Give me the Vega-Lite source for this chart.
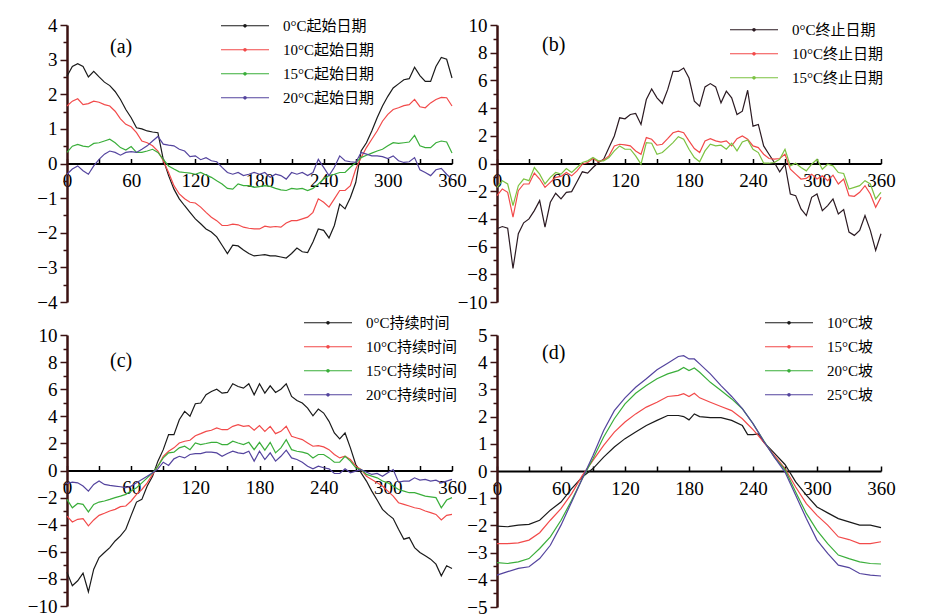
{
  "$schema": "https://vega.github.io/schema/vega-lite/v6.json",
  "background": "white",
  "padding": {"left": 27, "top": 14, "right": 5, "bottom": 5},
  "config": {
    "font": "Liberation Serif, Noto Sans CJK SC",
    "view": {"stroke": null},
    "axis": {"grid": false, "title": null, "labelFont": "Liberation Serif", "labelFontSize": 19, "labelColor": "black", "labelOverlap": false, "labelFlush": false, "format": "d"},
    "legend": {"orient": "none", "title": null, "padding": 0, "labelFont": "Liberation Serif, Noto Sans CJK SC", "labelFontSize": 15, "labelColor": "black", "symbolType": "M-1,0H1M0.05,0A0.05,0.05 0 1,1 -0.05,0A0.05,0.05 0 1,1 0.05,0", "symbolSize": 2304, "symbolStrokeWidth": 1.2, "labelOffset": 13, "clipHeight": 23.5, "rowPadding": 0},
    "title": {"font": "Liberation Serif", "fontSize": 20, "fontWeight": "normal", "color": "black", "anchor": "start", "frame": "group"}
  },
  "datasets": {
    "a": [
      {"x":0,"0°C起始日期":2.52,"10°C起始日期":1.66,"15°C起始日期":0.32,"20°C起始日期":-0.31},
      {"x":5,"0°C起始日期":2.8,"10°C起始日期":1.8,"15°C起始日期":0.5,"20°C起始日期":-0.16},
      {"x":10,"0°C起始日期":2.88,"10°C起始日期":1.87,"15°C起始日期":0.55,"20°C起始日期":-0.07},
      {"x":15,"0°C起始日期":2.8,"10°C起始日期":1.7,"15°C起始日期":0.5,"20°C起始日期":-0.21},
      {"x":20,"0°C起始日期":2.5,"10°C起始日期":1.73,"15°C起始日期":0.48,"20°C起始日期":-0.31},
      {"x":25,"0°C起始日期":2.66,"10°C起始日期":1.8,"15°C起始日期":0.58,"20°C起始日期":-0.07},
      {"x":30,"0°C起始日期":2.5,"10°C起始日期":1.77,"15°C起始日期":0.6,"20°C起始日期":0.12},
      {"x":35,"0°C起始日期":2.35,"10°C起始日期":1.7,"15°C起始日期":0.65,"20°C起始日期":0.27},
      {"x":40,"0°C起始日期":2.25,"10°C起始日期":1.66,"15°C起始日期":0.7,"20°C起始日期":0.36},
      {"x":45,"0°C起始日期":2.08,"10°C起始日期":1.51,"15°C起始日期":0.6,"20°C起始日期":0.32},
      {"x":50,"0°C起始日期":1.85,"10°C起始日期":1.29,"15°C起始日期":0.46,"20°C起始日期":0.24},
      {"x":55,"0°C起始日期":1.56,"10°C起始日期":1.13,"15°C起始日期":0.39,"20°C起始日期":0.32},
      {"x":60,"0°C起始日期":1.32,"10°C起始日期":1.06,"15°C起始日期":0.49,"20°C起始日期":0.34},
      {"x":65,"0°C起始日期":1.03,"10°C起始日期":0.89,"15°C起始日期":0.32,"20°C起始日期":0.32},
      {"x":70,"0°C起始日期":1.0,"10°C起始日期":0.65,"15°C起始日期":0.32,"20°C起始日期":0.41},
      {"x":75,"0°C起始日期":0.94,"10°C起始日期":0.6,"15°C起始日期":0.36,"20°C起始日期":0.51},
      {"x":80,"0°C起始日期":0.91,"10°C起始日期":0.51,"15°C起始日期":0.41,"20°C起始日期":0.65},
      {"x":85,"0°C起始日期":0.89,"10°C起始日期":0.36,"15°C起始日期":0.32,"20°C起始日期":0.78},
      {"x":90,"0°C起始日期":0.12,"10°C起始日期":0.08,"15°C起始日期":0.12,"20°C起始日期":0.56},
      {"x":95,"0°C起始日期":-0.35,"10°C起始日期":-0.26,"15°C起始日期":-0.07,"20°C起始日期":0.53},
      {"x":100,"0°C起始日期":-0.74,"10°C起始日期":-0.64,"15°C起始日期":-0.16,"20°C起始日期":0.51},
      {"x":105,"0°C起始日期":-1.02,"10°C起始日期":-0.88,"15°C起始日期":-0.24,"20°C起始日期":0.41},
      {"x":110,"0°C起始日期":-1.22,"10°C起始日期":-1.02,"15°C起始日期":-0.26,"20°C起始日期":0.36},
      {"x":115,"0°C起始日期":-1.41,"10°C起始日期":-1.12,"15°C起始日期":-0.28,"20°C起始日期":0.2},
      {"x":120,"0°C起始日期":-1.6,"10°C起始日期":-1.14,"15°C起始日期":-0.31,"20°C起始日期":0.22},
      {"x":125,"0°C起始日期":-1.74,"10°C起始日期":-1.26,"15°C起始日期":-0.26,"20°C起始日期":0.11},
      {"x":130,"0°C起始日期":-1.89,"10°C起始日期":-1.41,"15°C起始日期":-0.33,"20°C起始日期":0.17},
      {"x":135,"0°C起始日期":-1.98,"10°C起始日期":-1.55,"15°C起始日期":-0.4,"20°C起始日期":0.08},
      {"x":140,"0°C起始日期":-2.12,"10°C起始日期":-1.65,"15°C起始日期":-0.5,"20°C起始日期":0.05},
      {"x":145,"0°C起始日期":-2.36,"10°C起始日期":-1.79,"15°C起始日期":-0.59,"20°C起始日期":-0.11},
      {"x":150,"0°C起始日期":-2.6,"10°C起始日期":-1.79,"15°C起始日期":-0.72,"20°C起始日期":-0.26},
      {"x":155,"0°C起始日期":-2.36,"10°C起始日期":-1.75,"15°C起始日期":-0.74,"20°C起始日期":-0.31},
      {"x":160,"0°C起始日期":-2.38,"10°C起始日期":-1.77,"15°C起始日期":-0.59,"20°C起始日期":-0.26},
      {"x":165,"0°C起始日期":-2.5,"10°C起始日期":-1.84,"15°C起始日期":-0.64,"20°C起始日期":-0.35},
      {"x":170,"0°C起始日期":-2.6,"10°C起始日期":-1.87,"15°C起始日期":-0.64,"20°C起始日期":-0.31},
      {"x":175,"0°C起始日期":-2.67,"10°C起始日期":-1.89,"15°C起始日期":-0.69,"20°C起始日期":-0.26},
      {"x":180,"0°C起始日期":-2.65,"10°C起始日期":-1.89,"15°C起始日期":-0.67,"20°C起始日期":-0.31},
      {"x":185,"0°C起始日期":-2.63,"10°C起始日期":-1.81,"15°C起始日期":-0.64,"20°C起始日期":-0.26},
      {"x":190,"0°C起始日期":-2.67,"10°C起始日期":-1.84,"15°C起始日期":-0.66,"20°C起始日期":-0.4},
      {"x":195,"0°C起始日期":-2.67,"10°C起始日期":-1.82,"15°C起始日期":-0.72,"20°C起始日期":-0.31},
      {"x":200,"0°C起始日期":-2.7,"10°C起始日期":-1.84,"15°C起始日期":-0.76,"20°C起始日期":-0.35},
      {"x":205,"0°C起始日期":-2.73,"10°C起始日期":-1.72,"15°C起始日期":-0.78,"20°C起始日期":-0.45},
      {"x":210,"0°C起始日期":-2.6,"10°C起始日期":-1.65,"15°C起始日期":-0.72,"20°C起始日期":-0.26},
      {"x":215,"0°C起始日期":-2.44,"10°C起始日期":-1.65,"15°C起始日期":-0.74,"20°C起始日期":-0.31},
      {"x":220,"0°C起始日期":-2.55,"10°C起始日期":-1.6,"15°C起始日期":-0.72,"20°C起始日期":-0.26},
      {"x":225,"0°C起始日期":-2.57,"10°C起始日期":-1.55,"15°C起始日期":-0.78,"20°C起始日期":-0.35},
      {"x":230,"0°C起始日期":-2.27,"10°C起始日期":-1.41,"15°C起始日期":-0.72,"20°C起始日期":-0.26},
      {"x":235,"0°C起始日期":-1.89,"10°C起始日期":-1.02,"15°C起始日期":-0.59,"20°C起始日期":0.12},
      {"x":240,"0°C起始日期":-1.93,"10°C起始日期":-1.12,"15°C起始日期":-0.45,"20°C起始日期":-0.11},
      {"x":245,"0°C起始日期":-2.15,"10°C起始日期":-1.26,"15°C起始日期":-0.35,"20°C起始日期":-0.35},
      {"x":250,"0°C起始日期":-1.79,"10°C起始日期":-1.02,"15°C起始日期":-0.31,"20°C起始日期":-0.11},
      {"x":255,"0°C起始日期":-1.17,"10°C起始日期":-0.78,"15°C起始日期":-0.26,"20°C起始日期":0.22},
      {"x":260,"0°C起始日期":-1.31,"10°C起始日期":-0.78,"15°C起始日期":-0.26,"20°C起始日期":0.08},
      {"x":265,"0°C起始日期":-0.98,"10°C起始日期":-0.64,"15°C起始日期":-0.11,"20°C起始日期":0.05},
      {"x":270,"0°C起始日期":-0.55,"10°C起始日期":-0.16,"15°C起始日期":0.03,"20°C起始日期":0.03},
      {"x":275,"0°C起始日期":0.36,"10°C起始日期":0.17,"15°C起始日期":0.17,"20°C起始日期":0.32},
      {"x":280,"0°C起始日期":0.6,"10°C起始日期":0.46,"15°C起始日期":0.24,"20°C起始日期":0.27},
      {"x":285,"0°C起始日期":0.94,"10°C起始日期":0.7,"15°C起始日期":0.3,"20°C起始日期":0.22},
      {"x":290,"0°C起始日期":1.32,"10°C起始日期":0.94,"15°C起始日期":0.36,"20°C起始日期":0.22},
      {"x":295,"0°C起始日期":1.66,"10°C起始日期":1.22,"15°C起始日期":0.41,"20°C起始日期":0.2},
      {"x":300,"0°C起始日期":1.94,"10°C起始日期":1.42,"15°C起始日期":0.51,"20°C起始日期":0.14},
      {"x":305,"0°C起始日期":2.18,"10°C起始日期":1.56,"15°C起始日期":0.6,"20°C起始日期":0.22},
      {"x":310,"0°C起始日期":2.3,"10°C起始日期":1.61,"15°C起始日期":0.58,"20°C起始日期":0.08},
      {"x":315,"0°C起始日期":2.42,"10°C起始日期":1.67,"15°C起始日期":0.6,"20°C起始日期":0.03},
      {"x":320,"0°C起始日期":2.45,"10°C起始日期":1.7,"15°C起始日期":0.62,"20°C起始日期":0.05},
      {"x":325,"0°C起始日期":2.78,"10°C起始日期":1.85,"15°C起始日期":0.81,"20°C起始日期":0.17},
      {"x":330,"0°C起始日期":2.54,"10°C起始日期":1.64,"15°C起始日期":0.51,"20°C起始日期":-0.18},
      {"x":335,"0°C起始日期":2.37,"10°C起始日期":1.61,"15°C起始日期":0.46,"20°C起始日期":-0.26},
      {"x":340,"0°C起始日期":2.37,"10°C起始日期":1.75,"15°C起始日期":0.46,"20°C起始日期":-0.35},
      {"x":345,"0°C起始日期":2.8,"10°C起始日期":1.85,"15°C起始日期":0.6,"20°C起始日期":-0.18},
      {"x":350,"0°C起始日期":3.06,"10°C起始日期":1.91,"15°C起始日期":0.65,"20°C起始日期":-0.14},
      {"x":355,"0°C起始日期":3.01,"10°C起始日期":1.9,"15°C起始日期":0.62,"20°C起始日期":-0.31},
      {"x":360,"0°C起始日期":2.47,"10°C起始日期":1.66,"15°C起始日期":0.3,"20°C起始日期":-0.45}
    ],
    "b": [
      {"x":0,"0°C终止日期":-4.71,"10°C终止日期":-2.32,"15°C终止日期":-1.72},
      {"x":5,"0°C终止日期":-4.55,"10°C终止日期":-1.84,"15°C终止日期":-1.24},
      {"x":10,"0°C终止日期":-4.67,"10°C终止日期":-2.08,"15°C终止日期":-1.48},
      {"x":15,"0°C终止日期":-7.58,"10°C终止日期":-3.88,"15°C终止日期":-3.04},
      {"x":20,"0°C终止日期":-5.07,"10°C终止日期":-1.96,"15°C终止日期":-1.6},
      {"x":25,"0°C终止日期":-4.28,"10°C终止日期":-1.48,"15°C终止日期":-1.12},
      {"x":30,"0°C终止日期":-4.0,"10°C终止日期":-1.48,"15°C终止日期":-1.24},
      {"x":35,"0°C终止日期":-3.4,"10°C终止日期":-0.69,"15°C终止日期":-0.29},
      {"x":40,"0°C终止日期":-2.68,"10°C终止日期":-1.12,"15°C终止日期":-0.77},
      {"x":45,"0°C终止日期":-4.6,"10°C终止日期":-1.72,"15°C终止日期":-1.48},
      {"x":50,"0°C终止日期":-2.8,"10°C终止日期":-1.36,"15°C终止日期":-1.0},
      {"x":55,"0°C终止日期":-2.15,"10°C终止日期":-1.0,"15°C终止日期":-0.65},
      {"x":60,"0°C终止日期":-2.56,"10°C终止日期":-0.93,"15°C终止日期":-0.77},
      {"x":65,"0°C终止日期":-2.08,"10°C终止日期":-0.65,"15°C终止日期":-0.36},
      {"x":70,"0°C终止日期":-2.03,"10°C终止日期":-0.89,"15°C终止日期":-0.65},
      {"x":75,"0°C终止日期":-1.32,"10°C终止日期":-0.53,"15°C终止日期":-0.29},
      {"x":80,"0°C终止日期":-0.6,"10°C终止日期":-0.05,"15°C终止日期":0.07},
      {"x":85,"0°C终止日期":-0.69,"10°C终止日期":0.07,"15°C终止日期":0.19},
      {"x":90,"0°C终止日期":-0.29,"10°C终止日期":0.36,"15°C终止日期":0.43},
      {"x":95,"0°C终止日期":0.07,"10°C终止日期":0.12,"15°C终止日期":0.19},
      {"x":100,"0°C终止日期":0.31,"10°C终止日期":0.26,"15°C终止日期":0.19},
      {"x":105,"0°C终止日期":1.15,"10°C终止日期":0.55,"15°C终止日期":0.43},
      {"x":110,"0°C终止日期":1.99,"10°C终止日期":1.27,"15°C终止日期":0.91},
      {"x":115,"0°C终止日期":3.3,"10°C终止日期":1.39,"15°C终止日期":1.27},
      {"x":120,"0°C终止日期":3.23,"10°C终止日期":1.34,"15°C终止日期":1.03},
      {"x":125,"0°C终止日期":3.54,"10°C终止日期":1.27,"15°C终止日期":1.03},
      {"x":130,"0°C终止日期":3.61,"10°C终止日期":0.91,"15°C终止日期":0.55},
      {"x":135,"0°C终止日期":2.82,"10°C终止日期":0.67,"15°C终止日期":-0.05},
      {"x":140,"0°C终止日期":4.62,"10°C终止日期":1.87,"15°C终止日期":1.51},
      {"x":145,"0°C终止日期":5.38,"10°C终止日期":1.75,"15°C终止日期":1.46},
      {"x":150,"0°C终止日期":4.74,"10°C终止日期":1.32,"15°C终止日期":0.67},
      {"x":155,"0°C终止日期":4.33,"10°C终止日期":1.39,"15°C终止日期":0.79},
      {"x":160,"0°C终止日期":5.33,"10°C终止日期":1.79,"15°C终止日期":1.15},
      {"x":165,"0°C终止日期":6.65,"10°C终止日期":2.22,"15°C终止日期":1.51},
      {"x":170,"0°C终止日期":6.65,"10°C终止日期":2.34,"15°C终止日期":1.94},
      {"x":175,"0°C终止日期":6.89,"10°C终止日期":2.22,"15°C终止日期":1.75},
      {"x":180,"0°C终止日期":6.17,"10°C终止日期":1.63,"15°C终止日期":1.03},
      {"x":185,"0°C终止日期":4.5,"10°C终止日期":1.08,"15°C终止日期":0.43},
      {"x":190,"0°C终止日期":4.14,"10°C终止日期":0.79,"15°C终止日期":0.12},
      {"x":195,"0°C终止日期":5.53,"10°C终止日期":1.63,"15°C终止日期":0.91},
      {"x":200,"0°C终止日期":5.77,"10°C终止日期":1.79,"15°C终止日期":1.39},
      {"x":205,"0°C终止日期":5.53,"10°C终止日期":1.63,"15°C终止日期":1.27},
      {"x":210,"0°C终止日期":4.38,"10°C终止日期":1.55,"15°C终止日期":1.32},
      {"x":215,"0°C终止日期":5.22,"10°C终止日期":1.63,"15°C终止日期":1.03},
      {"x":220,"0°C终止日期":4.74,"10°C终止日期":1.27,"15°C终止日期":1.46},
      {"x":225,"0°C终止日期":3.54,"10°C终止日期":1.79,"15°C终止日期":0.91},
      {"x":230,"0°C终止日期":3.78,"10°C终止日期":1.99,"15°C终止日期":1.55},
      {"x":235,"0°C终止日期":5.29,"10°C终止日期":1.75,"15°C终止日期":1.7},
      {"x":240,"0°C终止日期":2.7,"10°C终止日期":1.27,"15°C终止日期":1.03},
      {"x":245,"0°C终止日期":2.82,"10°C终止日期":1.15,"15°C终止日期":0.79},
      {"x":250,"0°C终止日期":1.27,"10°C终止日期":0.67,"15°C终止日期":0.02},
      {"x":255,"0°C终止日期":0.67,"10°C终止日期":0.36,"15°C终止日期":0.02},
      {"x":260,"0°C终止日期":0.07,"10°C终止日期":0.31,"15°C终止日期":0.07},
      {"x":265,"0°C终止日期":-0.6,"10°C终止日期":0.36,"15°C终止日期":0.31},
      {"x":270,"0°C终止日期":-0.05,"10°C终止日期":0.67,"15°C终止日期":1.03},
      {"x":275,"0°C终止日期":-2.2,"10°C终止日期":-0.41,"15°C终止日期":-0.17},
      {"x":280,"0°C终止日期":-2.32,"10°C终止日期":-0.77,"15°C终止日期":0.02},
      {"x":285,"0°C终止日期":-3.28,"10°C终止日期":-1.12,"15°C终止日期":-0.29},
      {"x":290,"0°C终止日期":-3.76,"10°C终止日期":-1.08,"15°C终止日期":-0.53},
      {"x":295,"0°C终止日期":-2.44,"10°C终止日期":-0.77,"15°C终止日期":-0.05},
      {"x":300,"0°C终止日期":-2.2,"10°C终止日期":-1.12,"15°C终止日期":0.31},
      {"x":305,"0°C终止日期":-3.4,"10°C终止日期":-0.89,"15°C终止日期":-0.41},
      {"x":310,"0°C终止日期":-3.04,"10°C终止日期":-1.24,"15°C终止日期":-0.05},
      {"x":315,"0°C终止日期":-2.56,"10°C终止日期":-0.84,"15°C终止日期":-0.17},
      {"x":320,"0°C终止日期":-3.64,"10°C终止日期":-1.48,"15°C终止日期":-0.65},
      {"x":325,"0°C终止日期":-3.33,"10°C终止日期":-1.12,"15°C终止日期":-0.72},
      {"x":330,"0°C终止日期":-4.95,"10°C终止日期":-2.32,"15°C终止日期":-1.84},
      {"x":335,"0°C终止日期":-5.19,"10°C终止日期":-2.37,"15°C终止日期":-1.72},
      {"x":340,"0°C终止日期":-4.83,"10°C终止日期":-2.08,"15°C终止日期":-1.6},
      {"x":345,"0°C终止日期":-3.76,"10°C终止日期":-1.6,"15°C终止日期":-1.24},
      {"x":350,"0°C终止日期":-4.83,"10°C终止日期":-2.2,"15°C终止日期":-1.48},
      {"x":355,"0°C终止日期":-6.27,"10°C终止日期":-3.16,"15°C终止日期":-2.56},
      {"x":360,"0°C终止日期":-5.07,"10°C终止日期":-2.44,"15°C终止日期":-2.08}
    ],
    "c": [
      {"x":0,"0°C持续时间":-7.52,"10°C持续时间":-3.36,"15°C持续时间":-2.13,"20°C持续时间":-0.96},
      {"x":5,"0°C持续时间":-8.5,"10°C持续时间":-3.8,"15°C持续时间":-2.75,"20°C持续时间":-0.86},
      {"x":10,"0°C持续时间":-8.14,"10°C持续时间":-3.6,"15°C持续时间":-2.43,"20°C持续时间":-0.91},
      {"x":15,"0°C持续时间":-7.57,"10°C持续时间":-3.55,"15°C持续时间":-2.5,"20°C持续时间":-1.15},
      {"x":20,"0°C持续时间":-8.95,"10°C持续时间":-4.09,"15°C持续时间":-3.06,"20°C持续时间":-1.52},
      {"x":25,"0°C持续时间":-7.28,"10°C持续时间":-3.65,"15°C持续时间":-2.5,"20°C持续时间":-1.03},
      {"x":30,"0°C持续时间":-6.42,"10°C持续时间":-3.31,"15°C持续时间":-2.33,"20°C持续时间":-0.78},
      {"x":35,"0°C持续时间":-6.05,"10°C持续时间":-3.16,"15°C持续时间":-2.25,"20°C持续时间":-1.03},
      {"x":40,"0°C持续时间":-5.69,"10°C持续时间":-2.99,"15°C持续时间":-2.13,"20°C持续时间":-1.1},
      {"x":45,"0°C持续时间":-5.2,"10°C持续时间":-2.87,"15°C持续时间":-2.0,"20°C持续时间":-1.15},
      {"x":50,"0°C持续时间":-4.83,"10°C持续时间":-2.67,"15°C持续时间":-1.89,"20°C持续时间":-1.2},
      {"x":55,"0°C持续时间":-4.34,"10°C持续时间":-2.62,"15°C持续时间":-1.76,"20°C持续时间":-1.27},
      {"x":60,"0°C持续时间":-3.31,"10°C持续时间":-2.25,"15°C持续时间":-1.52,"20°C持续时间":-1.15},
      {"x":65,"0°C持续时间":-2.33,"10°C持续时间":-1.76,"15°C持续时间":-1.27,"20°C持续时间":-0.91},
      {"x":70,"0°C持续时间":-2.13,"10°C持续时间":-1.4,"15°C持续时间":-0.91,"20°C持续时间":-0.66},
      {"x":75,"0°C持续时间":-1.15,"10°C持续时间":-0.91,"15°C持续时间":-0.54,"20°C持续时间":-0.42},
      {"x":80,"0°C持续时间":-0.42,"10°C持续时间":-0.29,"15°C持续时间":-0.17,"20°C持续时间":-0.17},
      {"x":85,"0°C持续时间":0.69,"10°C持续时间":0.32,"15°C持续时间":0.32,"20°C持续时间":0.12},
      {"x":90,"0°C持续时间":1.54,"10°C持续时间":1.05,"15°C持续时间":0.93,"20°C持续时间":0.61},
      {"x":95,"0°C持续时间":2.65,"10°C持续时间":1.42,"15°C持续时间":1.3,"20°C持续时间":0.37},
      {"x":100,"0°C持续时间":2.65,"10°C持续时间":1.67,"15°C持续时间":1.35,"20°C持续时间":0.86},
      {"x":105,"0°C持续时间":3.75,"10°C持续时间":2.03,"15°C持续时间":1.67,"20°C持续时间":1.05},
      {"x":110,"0°C持续时间":4.36,"10°C持续时间":2.16,"15°C持续时间":1.79,"20°C持续时间":0.93},
      {"x":115,"0°C持续时间":4.0,"10°C持续时间":2.23,"15°C持续时间":1.54,"20°C持续时间":1.18},
      {"x":120,"0°C持续时间":4.93,"10°C持续时间":2.57,"15°C持续时间":2.03,"20°C持续时间":1.25},
      {"x":125,"0°C持续时间":4.98,"10°C持续时间":2.72,"15°C持续时间":1.91,"20°C持续时间":1.25},
      {"x":130,"0°C持续时间":5.59,"10°C持续时间":2.89,"15°C持续时间":1.99,"20°C持续时间":1.35},
      {"x":135,"0°C持续时间":5.83,"10°C持续时间":2.97,"15°C持续时间":2.08,"20°C持续时间":1.35},
      {"x":140,"0°C持续时间":6.0,"10°C持续时间":3.14,"15°C持续时间":2.08,"20°C持续时间":1.3},
      {"x":145,"0°C持续时间":5.71,"10°C持续时间":3.01,"15°C持续时间":1.91,"20°C持续时间":1.05},
      {"x":150,"0°C持续时间":5.76,"10°C持续时间":3.01,"15°C持续时间":1.91,"20°C持续时间":1.25},
      {"x":155,"0°C持续时间":6.4,"10°C持续时间":3.26,"15°C持续时间":2.16,"20°C持续时间":1.42},
      {"x":160,"0°C持续时间":6.2,"10°C持续时间":3.38,"15°C持续时间":2.03,"20°C持续时间":1.3},
      {"x":165,"0°C持续时间":6.08,"10°C持续时间":3.26,"15°C持续时间":1.91,"20°C持续时间":1.25},
      {"x":170,"0°C持续时间":6.4,"10°C持续时间":3.31,"15°C持续时间":2.08,"20°C持续时间":1.42},
      {"x":175,"0°C持续时间":5.59,"10°C持续时间":2.97,"15°C持续时间":1.54,"20°C持续时间":0.69},
      {"x":180,"0°C持续时间":6.4,"10°C持续时间":3.31,"15°C持续时间":2.08,"20°C持续时间":1.42},
      {"x":185,"0°C持续时间":5.71,"10°C持续时间":2.89,"15°C持续时间":1.5,"20°C持续时间":0.81},
      {"x":190,"0°C持续时间":6.25,"10°C持续时间":3.26,"15°C持续时间":2.08,"20°C持续时间":1.3},
      {"x":195,"0°C持续时间":5.76,"10°C持续时间":2.72,"15°C持续时间":1.3,"20°C持续时间":0.69},
      {"x":200,"0°C持续时间":6.0,"10°C持续时间":2.89,"15°C持续时间":1.67,"20°C持续时间":1.05},
      {"x":205,"0°C持续时间":6.4,"10°C持续时间":3.26,"15°C持续时间":2.28,"20°C持续时间":1.5},
      {"x":210,"0°C持续时间":5.47,"10°C持续时间":2.52,"15°C持续时间":1.54,"20°C持续时间":0.93},
      {"x":215,"0°C持续时间":5.17,"10°C持续时间":2.4,"15°C持续时间":1.42,"20°C持续时间":0.81},
      {"x":220,"0°C持续时间":4.98,"10°C持续时间":2.28,"15°C持续时间":1.35,"20°C持续时间":0.61},
      {"x":225,"0°C持续时间":4.61,"10°C持续时间":2.03,"15°C持续时间":1.25,"20°C持续时间":0.32},
      {"x":230,"0°C持续时间":4.04,"10°C持续时间":1.79,"15°C持续时间":0.93,"20°C持续时间":0.12},
      {"x":235,"0°C持续时间":4.53,"10°C持续时间":1.84,"15°C持续时间":1.18,"20°C持续时间":0.32},
      {"x":240,"0°C持续时间":4.24,"10°C持续时间":1.74,"15°C持续时间":1.18,"20°C持续时间":0.2},
      {"x":245,"0°C持续时间":3.63,"10°C持续时间":1.54,"15°C持续时间":0.93,"20°C持续时间":0.12},
      {"x":250,"0°C持续时间":2.77,"10°C持续时间":1.18,"15°C持续时间":0.61,"20°C持续时间":-0.22},
      {"x":255,"0°C持续时间":2.33,"10°C持续时间":0.93,"15°C持续时间":0.61,"20°C持续时间":-0.22},
      {"x":260,"0°C持续时间":2.77,"10°C持续时间":1.05,"15°C持续时间":1.05,"20°C持续时间":0.12},
      {"x":265,"0°C持续时间":1.67,"10°C持续时间":0.81,"15°C持续时间":0.69,"20°C持续时间":-0.17},
      {"x":270,"0°C持续时间":0.44,"10°C持续时间":0.32,"15°C持续时间":0.2,"20°C持续时间":-0.05},
      {"x":275,"0°C持续时间":-0.17,"10°C持续时间":0.07,"15°C持续时间":0.07,"20°C持续时间":0.07},
      {"x":280,"0°C持续时间":-0.78,"10°C持续时间":-0.42,"15°C持续时间":-0.29,"20°C持续时间":-0.12},
      {"x":285,"0°C持续时间":-1.52,"10°C持续时间":-0.66,"15°C持续时间":-0.42,"20°C持续时间":-0.29},
      {"x":290,"0°C持续时间":-2.18,"10°C持续时间":-0.91,"15°C持续时间":-0.54,"20°C持续时间":-0.22},
      {"x":295,"0°C持续时间":-2.87,"10°C持续时间":-1.15,"15°C持续时间":-0.78,"20°C持续时间":-0.42},
      {"x":300,"0°C持续时间":-3.24,"10°C持续时间":-1.52,"15°C持续时间":-0.91,"20°C持续时间":-0.17},
      {"x":305,"0°C持续时间":-3.55,"10°C持续时间":-1.89,"15°C持续时间":-1.15,"20°C持续时间":0.07},
      {"x":310,"0°C持续时间":-4.34,"10°C持续时间":-2.38,"15°C持续时间":-1.4,"20°C持续时间":-0.86},
      {"x":315,"0°C持续时间":-5.07,"10°C持续时间":-2.5,"15°C持续时间":-1.52,"20°C持续时间":-0.78},
      {"x":320,"0°C持续时间":-4.95,"10°C持续时间":-2.62,"15°C持续时间":-1.64,"20°C持续时间":-0.78},
      {"x":325,"0°C持续时间":-5.69,"10°C持续时间":-2.75,"15°C持续时间":-1.64,"20°C持续时间":-0.54},
      {"x":330,"0°C持续时间":-6.05,"10°C持续时间":-2.82,"15°C持续时间":-1.76,"20°C持续时间":-0.71},
      {"x":335,"0°C持续时间":-6.3,"10°C持续时间":-2.99,"15°C持续时间":-1.89,"20°C持续时间":-0.66},
      {"x":340,"0°C持续时间":-6.54,"10°C持续时间":-3.11,"15°C持续时间":-1.94,"20°C持续时间":-0.78},
      {"x":345,"0°C持续时间":-6.91,"10°C持续时间":-3.24,"15°C持续时间":-2.0,"20°C持续时间":-0.71},
      {"x":350,"0°C持续时间":-7.77,"10°C持续时间":-3.65,"15°C持续时间":-2.75,"20°C持续时间":-0.91},
      {"x":355,"0°C持续时间":-7.03,"10°C持续时间":-3.31,"15°C持续时间":-2.18,"20°C持续时间":-0.78},
      {"x":360,"0°C持续时间":-7.23,"10°C持续时间":-3.24,"15°C持续时间":-2.0,"20°C持续时间":-0.66}
    ],
    "d": [
      {"x":0,"10°C坡":-2.03,"15°C坡":-2.67,"20°C坡":-3.37,"25°C坡":-3.83},
      {"x":10,"10°C坡":-2.05,"15°C坡":-2.67,"20°C坡":-3.4,"25°C坡":-3.7},
      {"x":20,"10°C坡":-1.99,"15°C坡":-2.64,"20°C坡":-3.34,"25°C坡":-3.58},
      {"x":30,"10°C坡":-1.96,"15°C坡":-2.54,"20°C坡":-3.22,"25°C坡":-3.52},
      {"x":40,"10°C坡":-1.81,"15°C坡":-2.27,"20°C坡":-2.85,"25°C坡":-3.22},
      {"x":50,"10°C坡":-1.44,"15°C坡":-1.81,"20°C坡":-2.42,"25°C坡":-2.73},
      {"x":60,"10°C坡":-1.14,"15°C坡":-1.38,"20°C坡":-1.81,"25°C坡":-1.99},
      {"x":70,"10°C坡":-0.65,"15°C坡":-0.83,"20°C坡":-1.08,"25°C坡":-1.14},
      {"x":80,"10°C坡":-0.22,"15°C坡":-0.16,"20°C坡":-0.28,"25°C坡":-0.28},
      {"x":90,"10°C坡":0.09,"15°C坡":0.39,"20°C坡":0.45,"25°C坡":0.57},
      {"x":100,"10°C坡":0.51,"15°C坡":0.94,"20°C坡":1.25,"25°C坡":1.49},
      {"x":110,"10°C坡":0.88,"15°C坡":1.43,"20°C坡":1.92,"25°C坡":2.22},
      {"x":120,"10°C坡":1.19,"15°C坡":1.8,"20°C坡":2.47,"25°C坡":2.69},
      {"x":130,"10°C坡":1.43,"15°C坡":2.1,"20°C坡":2.86,"25°C坡":3.08},
      {"x":140,"10°C坡":1.67,"15°C坡":2.35,"20°C坡":3.14,"25°C坡":3.39},
      {"x":150,"10°C坡":1.86,"15°C坡":2.53,"20°C坡":3.39,"25°C坡":3.72},
      {"x":160,"10°C坡":2.04,"15°C坡":2.74,"20°C坡":3.57,"25°C坡":3.96},
      {"x":170,"10°C坡":2.04,"15°C坡":2.78,"20°C坡":3.69,"25°C坡":4.21},
      {"x":175,"10°C坡":2.0,"15°C坡":2.84,"20°C坡":3.81,"25°C坡":4.24},
      {"x":180,"10°C坡":1.88,"15°C坡":2.74,"20°C坡":3.69,"25°C坡":4.12},
      {"x":185,"10°C坡":2.1,"15°C坡":2.86,"20°C坡":3.79,"25°C坡":4.12},
      {"x":190,"10°C坡":2.0,"15°C坡":2.69,"20°C坡":3.63,"25°C坡":3.94},
      {"x":200,"10°C坡":1.96,"15°C坡":2.53,"20°C坡":3.26,"25°C坡":3.57},
      {"x":210,"10°C坡":1.96,"15°C坡":2.37,"20°C坡":2.96,"25°C坡":3.14},
      {"x":220,"10°C坡":1.86,"15°C坡":2.22,"20°C坡":2.65,"25°C坡":2.74},
      {"x":230,"10°C坡":1.67,"15°C坡":1.92,"20°C坡":2.29,"25°C坡":2.29},
      {"x":235,"10°C坡":1.34,"15°C坡":1.72,"20°C坡":2.02,"25°C坡":2.02},
      {"x":240,"10°C坡":1.34,"15°C坡":1.52,"20°C坡":1.74,"25°C坡":1.74},
      {"x":245,"10°C坡":1.36,"15°C坡":1.3,"20°C坡":1.43,"25°C坡":1.42},
      {"x":250,"10°C坡":1.06,"15°C坡":1.06,"20°C坡":1.12,"25°C坡":1.1},
      {"x":260,"10°C坡":0.66,"15°C坡":0.57,"20°C坡":0.51,"25°C坡":0.51},
      {"x":270,"10°C坡":0.24,"15°C坡":0.09,"20°C坡":0.05,"25°C坡":-0.04},
      {"x":280,"10°C坡":-0.4,"15°C坡":-0.59,"20°C坡":-0.77,"25°C坡":-0.89},
      {"x":290,"10°C坡":-0.89,"15°C坡":-1.2,"20°C坡":-1.56,"25°C坡":-1.75},
      {"x":300,"10°C坡":-1.32,"15°C坡":-1.63,"20°C坡":-2.18,"25°C坡":-2.54},
      {"x":310,"10°C坡":-1.54,"15°C坡":-1.99,"20°C坡":-2.67,"25°C坡":-3.03},
      {"x":320,"10°C坡":-1.75,"15°C坡":-2.42,"20°C坡":-3.09,"25°C坡":-3.46},
      {"x":330,"10°C坡":-1.87,"15°C坡":-2.52,"20°C坡":-3.22,"25°C坡":-3.55},
      {"x":340,"10°C坡":-1.99,"15°C坡":-2.67,"20°C坡":-3.34,"25°C坡":-3.77},
      {"x":350,"10°C坡":-1.99,"15°C坡":-2.67,"20°C坡":-3.4,"25°C坡":-3.83},
      {"x":360,"10°C坡":-2.08,"15°C坡":-2.6,"20°C坡":-3.42,"25°C坡":-3.86}
    ]
  },
  "columns": 2,
  "bounds": "flush",
  "spacing": {"row": 33, "column": 45},
  "resolve": {"scale": {"x": "independent", "y": "independent", "color": "independent"}, "legend": {"color": "independent"}},
  "concat": [
    {
      "width": 385, "height": 277,
      "data": {"name": "a"},
      "title": {"text": "(a)", "dx": 43, "dy": 47},
      "transform": [{"fold": ["0°C起始日期","10°C起始日期","15°C起始日期","20°C起始日期"], "as": ["s","y"]}],
      "mark": {"type": "line", "strokeWidth": 1.2},
      "encoding": {
        "x": {"field": "x", "type": "quantitative", "scale": {"domain": [0,360], "nice": false},
              "axis": {"values": [0,30,60,90,120,150,180,210,240,270,300,330,360], "labelExpr": "datum.value % 60 == 0 ? datum.label : ''", "offset": -138.5, "tickSize": -5, "tickWidth": 1.5, "tickColor": "black", "domainColor": "black", "domainWidth": 2, "labelPadding": 13}},
        "y": {"field": "y", "type": "quantitative", "scale": {"domain": [-4,4], "nice": false},
              "axis": {"values": [-4,-3.5,-3,-2.5,-2,-1.5,-1,-0.5,0,0.5,1,1.5,2,2.5,3,3.5,4], "labelExpr": "datum.value % 1 == 0 ? datum.label : ''", "tickSize": {"condition": {"test": "datum.value % 1 == 0", "value": 7}, "value": 4}, "tickWidth": 1.5, "tickColor": "#3b1212", "domainColor": "#3b1212", "domainWidth": 2.5, "labelPadding": 3}},
        "color": {"field": "s", "type": "nominal", "scale": {"domain": ["0°C起始日期","10°C起始日期","15°C起始日期","20°C起始日期"], "range": ["#1a1a1a","#f24a4a","#3aae3a","#54449e"]},
              "legend": {"legendX": 153, "legendY": -11}}
      }
    },
    {
      "width": 384, "height": 277,
      "data": {"name": "b"},
      "title": {"text": "(b)", "dx": 45, "dy": 43},
      "transform": [{"fold": ["0°C终止日期","10°C终止日期","15°C终止日期"], "as": ["s","y"]}],
      "mark": {"type": "line", "strokeWidth": 1.2},
      "encoding": {
        "x": {"field": "x", "type": "quantitative", "scale": {"domain": [0,360], "nice": false},
              "axis": {"values": [0,30,60,90,120,150,180,210,240,270,300,330,360], "labelExpr": "datum.value % 60 == 0 ? datum.label : ''", "offset": -138.5, "tickSize": -5, "tickWidth": 1.5, "tickColor": "black", "domainColor": "black", "domainWidth": 2, "labelPadding": 13}},
        "y": {"field": "y", "type": "quantitative", "scale": {"domain": [-10,10], "nice": false},
              "axis": {"values": [-10,-9,-8,-7,-6,-5,-4,-3,-2,-1,0,1,2,3,4,5,6,7,8,9,10], "labelExpr": "datum.value % 2 == 0 ? datum.label : ''", "tickSize": {"condition": {"test": "datum.value % 2 == 0", "value": 7}, "value": 4}, "tickWidth": 1.5, "tickColor": "#3b1212", "domainColor": "#3b1212", "domainWidth": 2.5, "labelPadding": 3}},
        "color": {"field": "s", "type": "nominal", "scale": {"domain": ["0°C终止日期","10°C终止日期","15°C终止日期"], "range": ["#2b1a22","#f24a4a","#7cc242"]},
              "legend": {"legendX": 232, "legendY": -7}}
      }
    },
    {
      "width": 385, "height": 271,
      "data": {"name": "c"},
      "title": {"text": "(c)", "dx": 43, "dy": 64},
      "transform": [{"fold": ["0°C持续时间","10°C持续时间","15°C持续时间","20°C持续时间"], "as": ["s","y"]}],
      "mark": {"type": "line", "strokeWidth": 1.2},
      "encoding": {
        "x": {"field": "x", "type": "quantitative", "scale": {"domain": [0,360], "nice": false},
              "axis": {"values": [0,30,60,90,120,150,180,210,240,270,300,330,360], "labelExpr": "datum.value % 60 == 0 ? datum.label : ''", "offset": -135.5, "tickSize": -5, "tickWidth": 1.5, "tickColor": "black", "domainColor": "black", "domainWidth": 2, "labelPadding": 13}},
        "y": {"field": "y", "type": "quantitative", "scale": {"domain": [-10,10], "nice": false},
              "axis": {"values": [-10,-9,-8,-7,-6,-5,-4,-3,-2,-1,0,1,2,3,4,5,6,7,8,9,10], "labelExpr": "datum.value % 2 == 0 ? datum.label : ''", "tickSize": {"condition": {"test": "datum.value % 2 == 0", "value": 7}, "value": 4}, "tickWidth": 1.5, "tickColor": "#3b1212", "domainColor": "#3b1212", "domainWidth": 2.5, "labelPadding": 3}},
        "color": {"field": "s", "type": "nominal", "scale": {"domain": ["0°C持续时间","10°C持续时间","15°C持续时间","20°C持续时间"], "range": ["#1a1a1a","#f24a4a","#3aae3a","#54449e"]},
              "legend": {"legendX": 236, "legendY": -24}}
      }
    },
    {
      "width": 384, "height": 272,
      "data": {"name": "d"},
      "title": {"text": "(d)", "dx": 45, "dy": 56},
      "transform": [{"fold": ["10°C坡","15°C坡","20°C坡","25°C坡"], "as": ["s","y"]}],
      "mark": {"type": "line", "strokeWidth": 1.2},
      "encoding": {
        "x": {"field": "x", "type": "quantitative", "scale": {"domain": [0,360], "nice": false},
              "axis": {"values": [0,30,60,90,120,150,180,210,240,270,300,330,360], "labelExpr": "datum.value % 60 == 0 ? datum.label : ''", "offset": -136, "tickSize": -5, "tickWidth": 1.5, "tickColor": "black", "domainColor": "black", "domainWidth": 2, "labelPadding": 13}},
        "y": {"field": "y", "type": "quantitative", "scale": {"domain": [-5,5], "nice": false},
              "axis": {"values": [-5,-4.5,-4,-3.5,-3,-2.5,-2,-1.5,-1,-0.5,0,0.5,1,1.5,2,2.5,3,3.5,4,4.5,5], "labelExpr": "datum.value % 1 == 0 ? datum.label : ''", "tickSize": {"condition": {"test": "datum.value % 1 == 0", "value": 7}, "value": 4}, "tickWidth": 1.5, "tickColor": "#3b1212", "domainColor": "#3b1212", "domainWidth": 2.5, "labelPadding": 3}},
        "color": {"field": "s", "type": "nominal", "scale": {"domain": ["10°C坡","15°C坡","20°C坡","25°C坡"], "range": ["#1a1a1a","#f24a4a","#3aae3a","#54449e"]},
              "legend": {"legendX": 267, "legendY": -24}}
      }
    }
  ]
}
